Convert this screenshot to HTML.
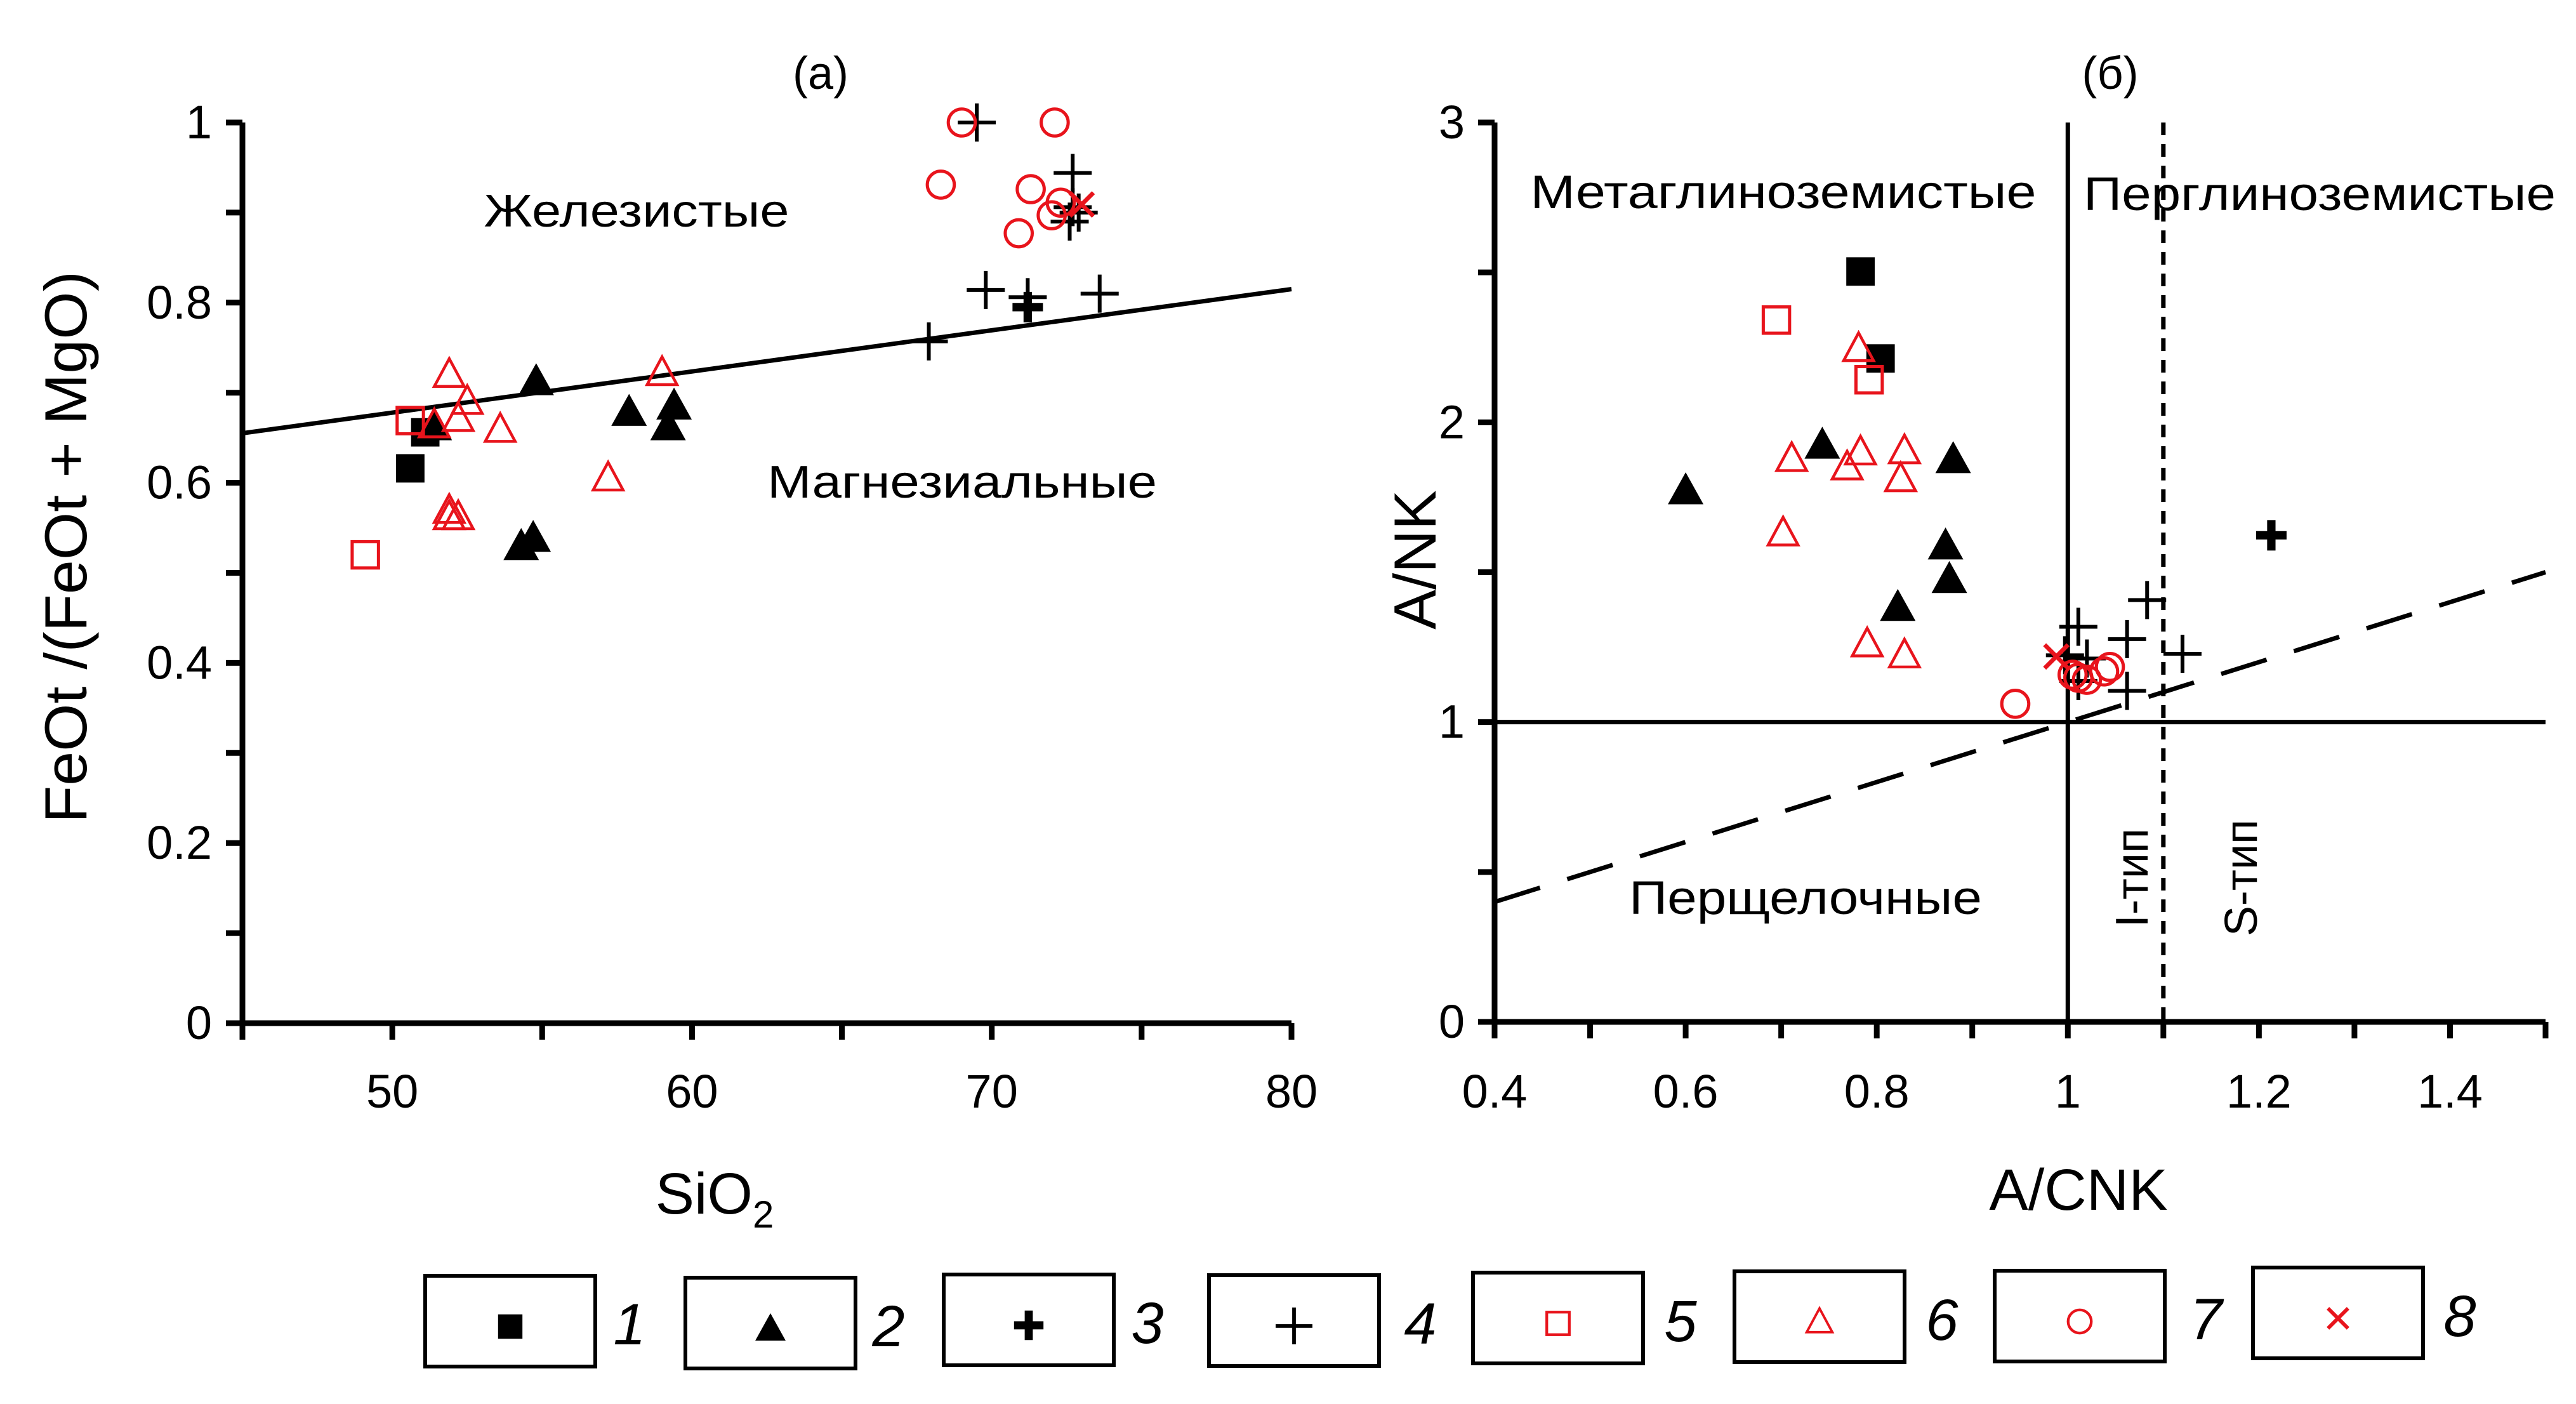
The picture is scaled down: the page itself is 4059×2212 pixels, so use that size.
<!DOCTYPE html>
<html><head><meta charset="utf-8"><style>
html,body{margin:0;padding:0;background:#fff;}
svg{display:block;}
text{font-family:"Liberation Sans",sans-serif;fill:#000;}
</style></head><body>
<svg id="svg" width="4059" height="2212" viewBox="0 0 4059 2212" xmlns="http://www.w3.org/2000/svg">
<g id="pa"></g>
<g id="pb"></g>
<g id="leg"></g>
</svg>
<script>
// Panel (a) data: SiO2 vs FeOt/(FeOt+MgO)
const aS1x=[50.6,51.1], aS1y=[0.616,0.656];
const aS2x=[54.8,54.3,54.7,57.9,59.2,59.4,51.4], aS2y=[0.713,0.53,0.539,0.679,0.663,0.686,0.663];
const aS3x=[71.2], aS3y=[0.795];
const aS4x=[69.5,69.8,71.2,73.6,67.9,72.7,72.6,72.9,72.7], aS4y=[1.0,0.814,0.806,0.81,0.757,0.944,0.89,0.9,0.906];
const aS5x=[50.6,49.1], aS5y=[0.669,0.52];
const aS6x=[51.9,52.5,52.2,51.4,53.6,57.2,59.0,51.9,52.2,51.9], aS6y=[0.72,0.69,0.671,0.664,0.659,0.605,0.722,0.569,0.562,0.562];
const aS7x=[69.0,72.1,68.3,71.3,70.9,72.0,72.3], aS7y=[1.0,1.0,0.931,0.926,0.877,0.897,0.911];
const aS8x=[73.0], aS8y=[0.909];
const aLineX=[45,80], aLineY=[0.655,0.815];
const aXTicks=[50,60,70,80], aYTicks=[0,0.2,0.4,0.6,0.8,1];
const aYTickLabels=["0","0.2","0.4","0.6","0.8","1"];
// Panel (b) data: A/CNK vs A/NK
const bS1x=[0.783,0.804], bS1y=[2.503,2.213];
const bS2x=[0.6,0.743,0.88,0.872,0.876,0.822], bS2y=[1.774,1.926,1.878,1.59,1.478,1.385];
const bS3x=[1.213], bS3y=[1.623];
const bS4x=[1.011,1.083,1.062,1.12,1.062,1.02,1.011,0.997], bS4y=[1.318,1.407,1.277,1.228,1.104,1.212,1.137,1.223];
const bS5x=[0.695,0.792], bS5y=[2.341,2.142];
const bS6x=[0.781,0.711,0.783,0.769,0.829,0.825,0.702,0.79,0.829], bS6y=[2.245,1.878,1.9,1.85,1.904,1.811,1.63,1.26,1.223];
const bS7x=[0.945,1.011,1.02,1.044,1.038,1.005], bS7y=[1.061,1.148,1.141,1.184,1.169,1.158];
const bS8x=[0.988], bS8y=[1.219];
const bXTicks=[0.4,0.6,0.8,1,1.2,1.4], bXTickLabels=["0.4","0.6","0.8","1","1.2","1.4"];
const bYTicks=[0,1,2,3];
const bDashX=[0.4,1.5], bDashY=[0.4,1.5];

const NS="http://www.w3.org/2000/svg";
function mk(p,tag,attrs,txt){const e=document.createElementNS(NS,tag);for(const k in attrs)e.setAttribute(k,attrs[k]);if(txt!==undefined)e.textContent=txt;p.appendChild(e);return e;}
const RED="#e8141c";
function marker(g,type,cx,cy,s){
  let e;
  if(type===1){e=mk(g,'rect',{x:cx-s*0.4,y:cy-s*0.4,width:s*0.8,height:s*0.8,fill:'#000'});}
  else if(type===2){e=mk(g,'polygon',{points:`${cx},${cy-s*0.5} ${cx+s*0.5},${cy+s*0.4} ${cx-s*0.5},${cy+s*0.4}`,fill:'#000'});}
  else if(type===3){e=mk(g,'path',{d:`M${cx-s*0.4},${cy}H${cx+s*0.4}M${cx},${cy-s*0.4}V${cy+s*0.4}`,stroke:'#000','stroke-width':s*0.22,fill:'none'});}
  else if(type===4){e=mk(g,'path',{d:`M${cx-s*0.5},${cy}H${cx+s*0.5}M${cx},${cy-s*0.5}V${cy+s*0.5}`,stroke:'#000','stroke-width':s*0.1,fill:'none'});}
  else if(type===5){e=mk(g,'rect',{x:cx-s*0.37,y:cy-s*0.37,width:s*0.74,height:s*0.74,fill:'none',stroke:RED,'stroke-width':s*0.09});}
  else if(type===6){e=mk(g,'polygon',{points:`${cx},${cy-s*0.45} ${cx+s*0.42},${cy+s*0.33} ${cx-s*0.42},${cy+s*0.33}`,fill:'none',stroke:RED,'stroke-width':s*0.08});}
  else if(type===7){e=mk(g,'circle',{cx:cx,cy:cy,r:s*0.38,fill:'none',stroke:RED,'stroke-width':s*0.09});}
  else {e=mk(g,'path',{d:`M${cx-s*0.33},${cy-s*0.33}L${cx+s*0.33},${cy+s*0.33}M${cx+s*0.33},${cy-s*0.33}L${cx-s*0.33},${cy+s*0.33}`,stroke:RED,'stroke-width':s*0.12,fill:'none'});}
  return e;
}
const LW=9, TL=26;

// ---------- Panel a ----------
const pa=document.getElementById('pa');
const ax0=382, ax1=2035, ay0=1612, ay1=193;
const axX=v=>ax0+(v-45)/(80-45)*(ax1-ax0);
const axY=v=>ay0-(v-0)/(1-0)*(ay0-ay1);
let e;
e=mk(pa,'line',{x1:ax0,y1:ay1,x2:ax0,y2:ay0+LW/2,stroke:'#000','stroke-width':LW});

e=mk(pa,'line',{x1:ax0-LW/2,y1:ay0,x2:ax1,y2:ay0,stroke:'#000','stroke-width':LW});

for(let v=45;v<=80;v+=5){e=mk(pa,'line',{x1:axX(v),y1:ay0,x2:axX(v),y2:ay0+TL,stroke:'#000','stroke-width':LW});
}
for(let i=0;i<=10;i++){const v=i/10;e=mk(pa,'line',{x1:ax0-TL,y1:axY(v),x2:ax0,y2:axY(v),stroke:'#000','stroke-width':LW});
}
aXTicks.forEach(v=>{e=mk(pa,'text',{x:axX(v),y:1745,'font-size':74,'text-anchor':'middle'},String(v));
});
aYTicks.forEach((v,i)=>{e=mk(pa,'text',{x:334,y:axY(v)+25,'font-size':74,'text-anchor':'end'},aYTickLabels[i]);
});
e=mk(pa,'line',{x1:axX(aLineX[0]),y1:axY(aLineY[0]),x2:axX(aLineX[1]),y2:axY(aLineY[1]),stroke:'#000','stroke-width':7});

e=mk(pa,'text',{x:1293,y:140,'font-size':72,'text-anchor':'middle'},'(а)');

e=mk(pa,'text',{x:1003,y:357,'font-size':72,'text-anchor':'middle',textLength:481,lengthAdjust:'spacingAndGlyphs'},'Железистые');

e=mk(pa,'text',{x:1516,y:784,'font-size':72,'text-anchor':'middle',textLength:614,lengthAdjust:'spacingAndGlyphs'},'Магнезиальные');

e=mk(pa,'text',{x:1126,y:1912,'font-size':92,'text-anchor':'middle'},'');

e.innerHTML='SiO<tspan font-size="60" dy="22">2</tspan>';
e=mk(pa,'text',{x:0,y:0,'font-size':94,'text-anchor':'middle',transform:'translate(136,862) rotate(-90)',textLength:870,lengthAdjust:'spacingAndGlyphs'},'FeOt /(FeOt + MgO)');

function series(g,xs,ys,fx,fy,type,name){xs.forEach((x,i)=>{const m=marker(g,type,fx(x),fy(ys[i]),type===4||type===3?60:56);
});}
series(pa,aS1x,aS1y,axX,axY,1,'point-a-group-1');
series(pa,aS2x,aS2y,axX,axY,2,'point-a-group-2');
series(pa,aS3x,aS3y,axX,axY,3,'point-a-group-3');
series(pa,aS4x,aS4y,axX,axY,4,'point-a-group-4');
series(pa,aS5x,aS5y,axX,axY,5,'point-a-group-5');
series(pa,aS6x,aS6y,axX,axY,6,'point-a-group-6');
series(pa,aS7x,aS7y,axX,axY,7,'point-a-group-7');
series(pa,aS8x,aS8y,axX,axY,8,'point-a-group-8');

// ---------- Panel b ----------
const pb=document.getElementById('pb');
const bx0=2355, bx1=4011, by0=1610, by1=193;
const bxX=v=>bx0+(v-0.4)/(1.5-0.4)*(bx1-bx0);
const byY=v=>by0-(v-0)/(3-0)*(by0-by1);
e=mk(pb,'line',{x1:bx0,y1:by1,x2:bx0,y2:by0+LW/2,stroke:'#000','stroke-width':LW});

e=mk(pb,'line',{x1:bx0-LW/2,y1:by0,x2:bx1,y2:by0,stroke:'#000','stroke-width':LW});

for(let i=4;i<=15;i++){const v=i/10;e=mk(pb,'line',{x1:bxX(v),y1:by0,x2:bxX(v),y2:by0+TL,stroke:'#000','stroke-width':LW});
}
for(let i=0;i<=6;i++){const v=i/2;e=mk(pb,'line',{x1:bx0-TL,y1:byY(v),x2:bx0,y2:byY(v),stroke:'#000','stroke-width':LW});
}
bXTicks.forEach((v,i)=>{e=mk(pb,'text',{x:bxX(v),y:1745,'font-size':74,'text-anchor':'middle'},bXTickLabels[i]);
});
bYTicks.forEach(v=>{e=mk(pb,'text',{x:2308,y:byY(v)+25,'font-size':74,'text-anchor':'end'},String(v));
});
e=mk(pb,'line',{x1:bxX(1),y1:by1,x2:bxX(1),y2:by0,stroke:'#000','stroke-width':7});

e=mk(pb,'line',{x1:bx0,y1:byY(1),x2:bx1,y2:byY(1),stroke:'#000','stroke-width':7});

e=mk(pb,'line',{x1:bxX(1.1),y1:by1,x2:bxX(1.1),y2:by0,stroke:'#000','stroke-width':7,'stroke-dasharray':'20 14'});

e=mk(pb,'line',{x1:bxX(bDashX[0]),y1:byY(bDashY[0]),x2:bxX(bDashX[1]),y2:byY(bDashY[1]),stroke:'#000','stroke-width':7,'stroke-dasharray':'75 45'});

e=mk(pb,'text',{x:3325,y:140,'font-size':72,'text-anchor':'middle'},'(б)');

e=mk(pb,'text',{x:2810,y:328,'font-size':74,'text-anchor':'middle',textLength:797,lengthAdjust:'spacingAndGlyphs'},'Метаглиноземистые');

e=mk(pb,'text',{x:3655,y:331,'font-size':74,'text-anchor':'middle',textLength:744,lengthAdjust:'spacingAndGlyphs'},'Перглиноземистые');

e=mk(pb,'text',{x:2845,y:1440,'font-size':74,'text-anchor':'middle',textLength:556,lengthAdjust:'spacingAndGlyphs'},'Перщелочные');

e=mk(pb,'text',{x:0,y:0,'font-size':72,'text-anchor':'middle',transform:'translate(3384,1383) rotate(-90)'},'I-тип');

e=mk(pb,'text',{x:0,y:0,'font-size':72,'text-anchor':'middle',transform:'translate(3556,1383) rotate(-90)'},'S-тип');

e=mk(pb,'text',{x:3275,y:1906,'font-size':92,'text-anchor':'middle'},'A/CNK');

e=mk(pb,'text',{x:0,y:0,'font-size':94,'text-anchor':'middle',transform:'translate(2262,882) rotate(-90)'},'A/NK');

series(pb,bS1x,bS1y,bxX,byY,1,'point-b-group-1');
series(pb,bS2x,bS2y,bxX,byY,2,'point-b-group-2');
series(pb,bS3x,bS3y,bxX,byY,3,'point-b-group-3');
series(pb,bS4x,bS4y,bxX,byY,4,'point-b-group-4');
series(pb,bS5x,bS5y,bxX,byY,5,'point-b-group-5');
series(pb,bS6x,bS6y,bxX,byY,6,'point-b-group-6');
series(pb,bS7x,bS7y,bxX,byY,7,'point-b-group-7');
series(pb,bS8x,bS8y,bxX,byY,8,'point-b-group-8');

// ---------- Legend ----------
const leg=document.getElementById('leg');
const legBoxX=[670,1080,1487,1905,2321,2733,3143,3550];
const legBoxY=[2010,2013,2008,2009,2005,2003,2002,1997];
const legNumX=[992,1400,1808,2238,2648,3060,3476,3876];
legBoxX.forEach((x,i)=>{
  e=mk(leg,'rect',{x:x,y:legBoxY[i],width:268,height:143,fill:'#fff',stroke:'#000','stroke-width':6});
  
  const m=marker(leg,i+1,x+134,legBoxY[i]+80,(i===3||i===2)?58:48);
  
  e=mk(leg,'text',{x:legNumX[i],y:legBoxY[i]+108,'font-size':92,'font-style':'italic','text-anchor':'middle'},String(i+1));
  
});
</script>
</body></html>
